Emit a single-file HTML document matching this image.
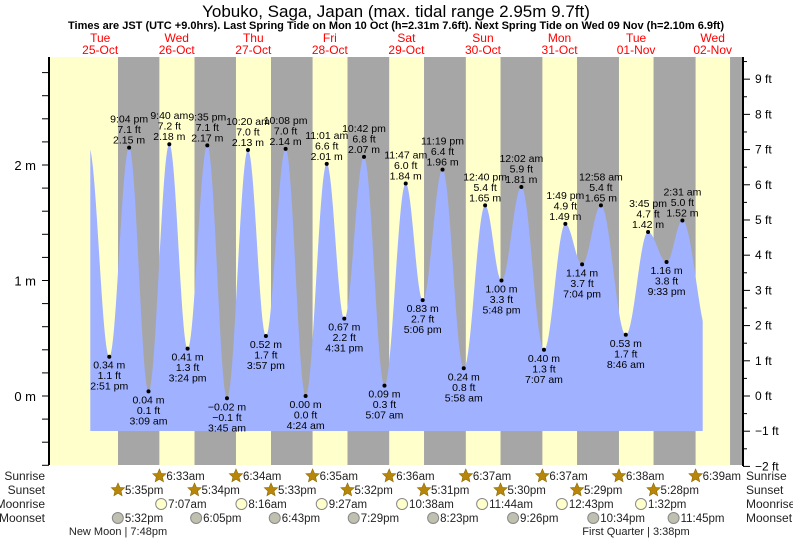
<!DOCTYPE html>
<html><head><meta charset="utf-8"><style>
body{margin:0;background:#fff;}
svg{display:block;font-family:"Liberation Sans",sans-serif;}
</style></head><body>
<svg id="c" width="793" height="539" viewBox="0 0 793 539">
<text x="396" y="17" font-size="17" text-anchor="middle">Yobuko, Saga, Japan (max. tidal range 2.95m 9.7ft)</text>
<text x="396" y="29" font-size="11" font-weight="bold" text-anchor="middle">Times are JST (UTC +9.0hrs). Last Spring Tide on Mon 10 Oct (h=2.31m 7.6ft). Next Spring Tide on Wed 09 Nov (h=2.10m 6.9ft)</text>
<g id="bg"></g><g id="fill"></g><g id="labels"></g><g id="axes"></g><g id="astro"></g>
</svg>
<script>
const dayNames=["Tue","Wed","Thu","Fri","Sat","Sun","Mon","Tue","Wed"];
const dayDates=["25-Oct","26-Oct","27-Oct","28-Oct","29-Oct","30-Oct","31-Oct","01-Nov","02-Nov"];
const tideHours=[14.85,21.07,27.15,33.67,39.4,45.58,51.75,58.33,63.95,70.13,76.4,83.02,88.52,94.7,101.12,107.78,113.1,119.32,125.97,132.67,137.8,144.03,151.12,157.82,163.07,168.97,176.77,183.75,189.55,194.52];
const tideHeights=[0.34,2.15,0.04,2.18,0.41,2.17,-0.02,2.13,0.52,2.14,0.00,2.01,0.67,2.07,0.09,1.84,0.83,1.96,0.24,1.65,1.00,1.81,0.40,1.49,1.14,1.65,0.53,1.42,1.16,1.52];
const tideTimes=["2:51 pm","9:04 pm","3:09 am","9:40 am","3:24 pm","9:35 pm","3:45 am","10:20 am","3:57 pm","10:08 pm","4:24 am","11:01 am","4:31 pm","10:42 pm","5:07 am","11:47 am","5:06 pm","11:19 pm","5:58 am","12:40 pm","5:48 pm","12:02 am","7:07 am","1:49 pm","7:04 pm","12:58 am","8:46 am","3:45 pm","9:33 pm","2:31 am"];
const sunriseHours=[30.55,54.57,78.58,102.6,126.62,150.62,174.63,198.65];
const sunriseLabels=["6:33am","6:34am","6:35am","6:36am","6:37am","6:37am","6:38am","6:39am"];
const sunsetHours=[17.58,41.57,65.55,89.53,113.52,137.5,161.48,185.47,209.45];
const sunsetLabels=["5:35pm","5:34pm","5:33pm","5:32pm","5:31pm","5:30pm","5:29pm","5:28pm",""];
const moonriseHours=[31.12,56.27,81.45,106.63,131.73,156.72,181.53];
const moonriseLabels=["7:07am","8:16am","9:27am","10:38am","11:44am","12:43pm","1:32pm"];
const moonsetHours=[17.53,42.08,66.72,91.48,116.38,141.43,166.57,191.75];
const moonsetLabels=["5:32pm","6:05pm","6:43pm","7:29pm","8:23pm","9:26pm","10:34pm","11:45pm"];
const NS="http://www.w3.org/2000/svg";
const X0=61.9,PX=3.19,Y0=396,PM=115.5,PL=50,PR=742,PT=57,PB=465;
const xs=t=>X0+t*PX, ys=h=>Y0-h*PM;
function mk(tag,attrs,parent,txt){const e=document.createElementNS(NS,tag);for(const k in attrs)e.setAttribute(k,attrs[k]);if(txt!==undefined)e.textContent=txt;document.getElementById(parent).appendChild(e);return e;}
let r=mk('rect',{x:PL,y:PT,width:PR-PL,height:PB-PT,fill:'#ffffcc'},'bg');


for(let i=0;i<sunsetHours.length;i++){
  const a=xs(sunsetHours[i]);const b=i<sunriseHours.length?xs(sunriseHours[i]):PR;
  const n=mk('rect',{x:a,y:PT,width:Math.min(b,PR)-a,height:PB-PT,fill:'#a6a6a6'},'bg');
  
  
}
for(let i=0;i<dayNames.length;i++){
  const x=xs(i*24+12);
  const t1=mk('text',{x:x,y:42,'font-size':12,fill:'#f00','text-anchor':'middle'},'bg',dayNames[i]);
  
  
  const t2=mk('text',{x:x,y:54,'font-size':12,fill:'#f00','text-anchor':'middle'},'bg',dayDates[i]);
  
  
}
const ext=[[8.4,2.16]].concat(tideHours.map((t,i)=>[t,tideHeights[i]])).concat([[203,0.5]]);
function hAt(t){for(let i=0;i<ext.length-1;i++){const a=ext[i],b=ext[i+1];if(t>=a[0]&&t<=b[0]){const f=(t-a[0])/(b[0]-a[0]);return a[1]+(b[1]-a[1])*(1-Math.cos(Math.PI*f))/2;}}return 0;}
const t0=(90.3-X0)/PX,t1=(702.7-X0)/PX;let d=`M${xs(t0)},431`;
for(let t=t0;t<=t1;t+=0.1)d+=` L${xs(t).toFixed(2)},${ys(hAt(t)).toFixed(2)}`;
d+=` L${xs(t1)},${ys(hAt(t1))} L${xs(t1)},431 Z`;
const p=mk('path',{d:d,fill:'#9fb1ff'},'fill');


const fmt=v=>v.toFixed(2).replace('-','\u2212');
for(let i=0;i<tideHours.length;i++){
  const x=xs(tideHours[i]),y=ys(tideHeights[i]),h=tideHeights[i];
  const ft=(h*3.2808).toFixed(1).replace('-','\u2212');
  const m=fmt(h)+' m';
  const dot=mk('circle',{cx:x,cy:y,r:2,fill:'#000'},'labels');
  
  
  const high=i%2===1;
  const lines=high?[tideTimes[i],ft+' ft',m]:[m,ft+' ft',tideTimes[i]];
  const base=high?y-25:y+12;
  lines.forEach((s,k)=>{const t=mk('text',{x:x,y:base+k*10.5,'font-size':10.5,'text-anchor':'middle'},'labels',s);
    
    });
}
mk('line',{x1:PL-1,y1:PT,x2:PL-1,y2:PB,stroke:'#000','stroke-width':2},'axes');
mk('line',{x1:PR+1,y1:PT,x2:PR+1,y2:PB+1,stroke:'#000','stroke-width':2},'axes');
for(let k=-3;k<=14;k++){const v=k*0.2,y=ys(v);if(y<PT-1||y>PB+1)continue;
  mk('line',{x1:PL-8,y1:y,x2:PL-1,y2:y,stroke:'#000'},'axes');
  if(k%5===0){const t=mk('text',{x:PL-14,y:y+5,'font-size':13,'text-anchor':'end'},'axes',Math.round(v)+' m');
    
    }}
for(let k=-4;k<=19;k++){const v=k*0.5,y=Y0-v*0.3048*PM;if(y<PT-1||y>PB+3)continue;
  const maj=k%2===0;
  mk('line',{x1:PR+1,y1:y,x2:PR+(maj?8:5),y2:y,stroke:'#000'},'axes');
  if(maj){const t=mk('text',{x:PR+13,y:y+4,'font-size':12},'axes',String(v).replace('-','\u2212')+' ft');
    
    }}
const rows=[["Sunrise",480],["Sunset",494],["Moonrise",508],["Moonset",522]];
rows.forEach(rw=>{const a=mk('text',{x:45,y:rw[1],'font-size':12,'text-anchor':'end',fill:'#222'},'astro',rw[0]);
  
  const b=mk('text',{x:746,y:rw[1],'font-size':12,fill:'#222'},'astro',rw[0]);
  });
function star(cx,cy){let pts=[];for(let i=0;i<10;i++){const rr=i%2?3.2:7,a=-Math.PI/2+i*Math.PI/5;pts.push((cx+rr*Math.cos(a)).toFixed(1)+','+(cy+rr*Math.sin(a)).toFixed(1));}
  const s=mk('polygon',{points:pts.join(' '),fill:'#b8860b',stroke:'#8a6a00','stroke-width':0.6},'astro');
  }
function item(hours,labels,y,kind){hours.forEach((h,i)=>{if(!labels[i])return;const x=xs(h);
  if(kind==='sun')star(x,y-4);else{const c=mk('circle',{cx:x,cy:y-4,r:5.5,fill:kind==='rise'?'#ffffcc':'#c0c0b0',stroke:'#888'},'astro');
    }
  const t=mk('text',{x:x+7,y:y,'font-size':11.5,fill:'#222'},'astro',labels[i]);
  });}
item(sunriseHours,sunriseLabels,480,'sun');
item(sunsetHours,sunsetLabels,494,'sun');
item(moonriseHours,moonriseLabels,508,'rise');
item(moonsetHours,moonsetLabels,522,'set');
let np=mk('text',{x:118,y:535,'font-size':11,'text-anchor':'middle',fill:'#222'},'astro','New Moon | 7:48pm');

let fq=mk('text',{x:636,y:535,'font-size':11,'text-anchor':'middle',fill:'#222'},'astro','First Quarter | 3:38pm');

</script>
</body></html>
